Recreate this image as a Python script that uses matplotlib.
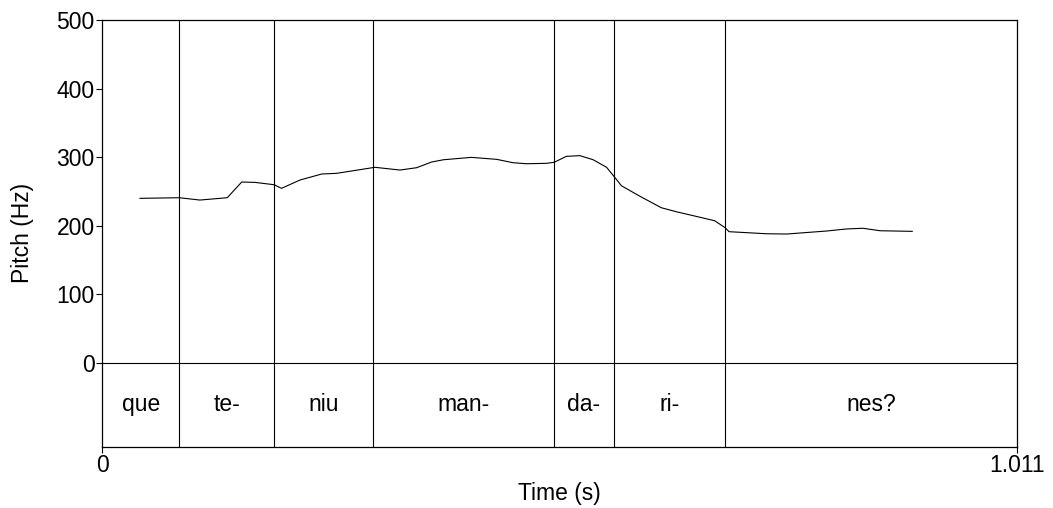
import numpy as np
import matplotlib as mpl

mpl.use('agg')

import matplotlib.pyplot as plt

plt.rcParams['font.family'] = ['Liberation Sans', 'DejaVu Sans']

## pitch contour (s, Hz)
times = [0.0415, 0.0849, 0.1078, 0.138, 0.154, 0.1686, 0.1897, 0.198, 0.2184,
         0.2424, 0.259, 0.2773, 0.3013, 0.329, 0.3474, 0.364, 0.377, 0.408,
         0.436, 0.454, 0.469, 0.491, 0.4996, 0.513, 0.528, 0.5427, 0.5575,
         0.5653, 0.574, 0.594, 0.618, 0.635, 0.661, 0.677, 0.6884, 0.693,
         0.7345, 0.7566, 0.8008, 0.823, 0.841, 0.86, 0.8955]
pitch = [239.7, 240.6, 237.2, 240.6, 263.5, 263.0, 259.6, 254.3, 266.4,
         275.2, 276.2, 280.0, 285.0, 281.0, 284.4, 292.7, 296.0, 299.5,
         296.6, 291.7, 290.2, 290.8, 292.3, 301.0, 302.0, 296.0, 285.0,
         272.3, 258.0, 243.0, 226.0, 220.0, 212.0, 207.0, 197.0, 191.0,
         188.0, 187.6, 192.0, 195.0, 196.0, 192.4, 191.5]

## syllable tier
boundaries = [0.0849, 0.1897, 0.2988, 0.4996, 0.5653, 0.6884]
syllables = ['que', 'te-', 'niu', 'man-', 'da-', 'ri-', 'nes?']

t_end = 1.011
f_max = 500
tier_h = 122.6  # tier height in Hz units
fs = 16.5

fig = plt.figure(figsize=(10.53, 5.08), dpi=100)
ax = fig.add_axes([0.0973, 0.121, 0.8682, 0.8396])

ax.plot(times, pitch, color='black', linewidth=0.8)

edges = [0] + boundaries + [t_end]
for b in boundaries:
    ax.plot([b, b], [-tier_h, f_max], color='black', linewidth=0.8)
ax.axhline(0, color='black', linewidth=0.8)
for i, s in enumerate(syllables):
    ax.text((edges[i] + edges[i + 1]) / 2, -tier_h / 2, s,
            ha='center', va='center', fontsize=fs)

ax.set_xlim(0, t_end)
ax.set_ylim(-tier_h, f_max)
ax.set_yticks([0, 100, 200, 300, 400, 500])
ax.set_xticks([0, t_end])
ax.set_xticklabels(['0', '1.011'])
ax.tick_params(direction='out', length=4, width=0.8, labelsize=fs, pad=1.5)
for sp in ax.spines.values():
    sp.set_linewidth(0.9)

ax.set_ylabel('Pitch (Hz)', fontsize=fs, va='center')
ax.yaxis.set_label_coords(-0.087, 0.5)
ax.set_xlabel('Time (s)', fontsize=fs, va='center')
ax.xaxis.set_label_coords(0.5, -0.111)

fig.savefig('out.png', dpi=100)
